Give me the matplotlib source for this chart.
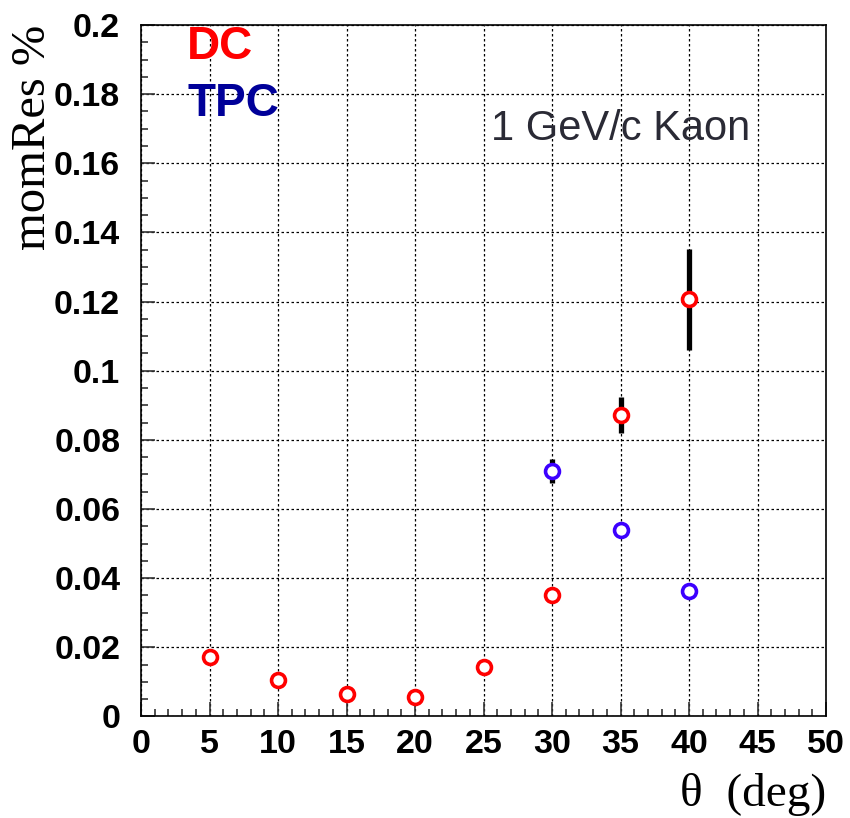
import numpy as np
import matplotlib.pyplot as plt
from matplotlib.ticker import MultipleLocator, FormatStrFormatter

# угол, градусы
theta_dc = [5, 10, 15, 20, 25, 30, 35, 40]
res_dc = [0.0173, 0.0106, 0.0064, 0.0055, 0.0142, 0.0351, 0.0872, 0.1207]
err_dc = [0.001, 0.0008, 0.0006, 0.0005, 0.001, 0.002, 0.0051, 0.0146]

theta_tpc = [30, 35, 40]
res_tpc = [0.0710, 0.0539, 0.0363]
err_tpc = [0.0035, 0.002, 0.0015]

fig = plt.figure(figsize=(8.5, 8.18), dpi=100)
ax = fig.add_axes([0.1659, 0.1241, 0.8059, 0.8453])

# сетка пунктиром под точками
ax.grid(True, which='major', color='black', linestyle=(0, (2, 2)), linewidth=0.9, zorder=0)
ax.set_axisbelow(True)

for x, y, e, col in [(theta_dc, res_dc, err_dc, '#ff0000'), (theta_tpc, res_tpc, err_tpc, '#3c00ff')]:
    ax.errorbar(x, y, yerr=e, fmt='none', ecolor='black', elinewidth=3.8, capsize=0, zorder=2)
    ax.plot(x, y, 'o', ms=10, mfc='white', mec=col, mew=2.6, linestyle='none', zorder=3)

ax.set_xlim(0, 50)
ax.set_ylim(0, 0.2)
ax.xaxis.set_major_locator(MultipleLocator(5))
ax.xaxis.set_minor_locator(MultipleLocator(1))
ax.yaxis.set_major_locator(MultipleLocator(0.02))
ax.yaxis.set_minor_locator(MultipleLocator(0.005))
ax.yaxis.set_major_formatter(FormatStrFormatter('%g'))

ax.tick_params(which='both', direction='in', top=False, right=False, width=1.2, color='#333333')
ax.tick_params(which='major', length=10)
ax.tick_params(which='minor', length=5)
ax.tick_params(axis='y', which='major', pad=15)
ax.tick_params(axis='x', which='major', pad=9)
for lab in ax.get_xticklabels() + ax.get_yticklabels():
    lab.set_fontfamily('Liberation Sans')
    lab.set_fontweight('bold')
    lab.set_fontsize(24.5)
for sp in ax.spines.values():
    sp.set_linewidth(1.2)

# подписи осей в стиле ROOT
fig.text(33 / 850, 1 - 25 / 818, 'momRes %', rotation=90, ha='center', va='top',
         family='Liberation Serif', fontsize=35)
fig.text(826 / 850, 1 - 806 / 818, 'θ  (deg)', ha='right', va='baseline',
         family='Liberation Serif', fontsize=34)

fig.text(187 / 850, 1 - 59 / 818, 'DC', color='#ff0000', family='Liberation Sans',
         fontweight='bold', fontsize=33, va='baseline')
fig.text(187 / 850, 1 - 116 / 818, 'TPC', color='#000099', family='Liberation Sans',
         fontweight='bold', fontsize=33, va='baseline')
fig.text(491 / 850, 1 - 140 / 818, '1 GeV/c Kaon', color='#2a2a35', family='Liberation Sans',
         fontsize=30, va='baseline')

fig.savefig('out.png', dpi=100)
